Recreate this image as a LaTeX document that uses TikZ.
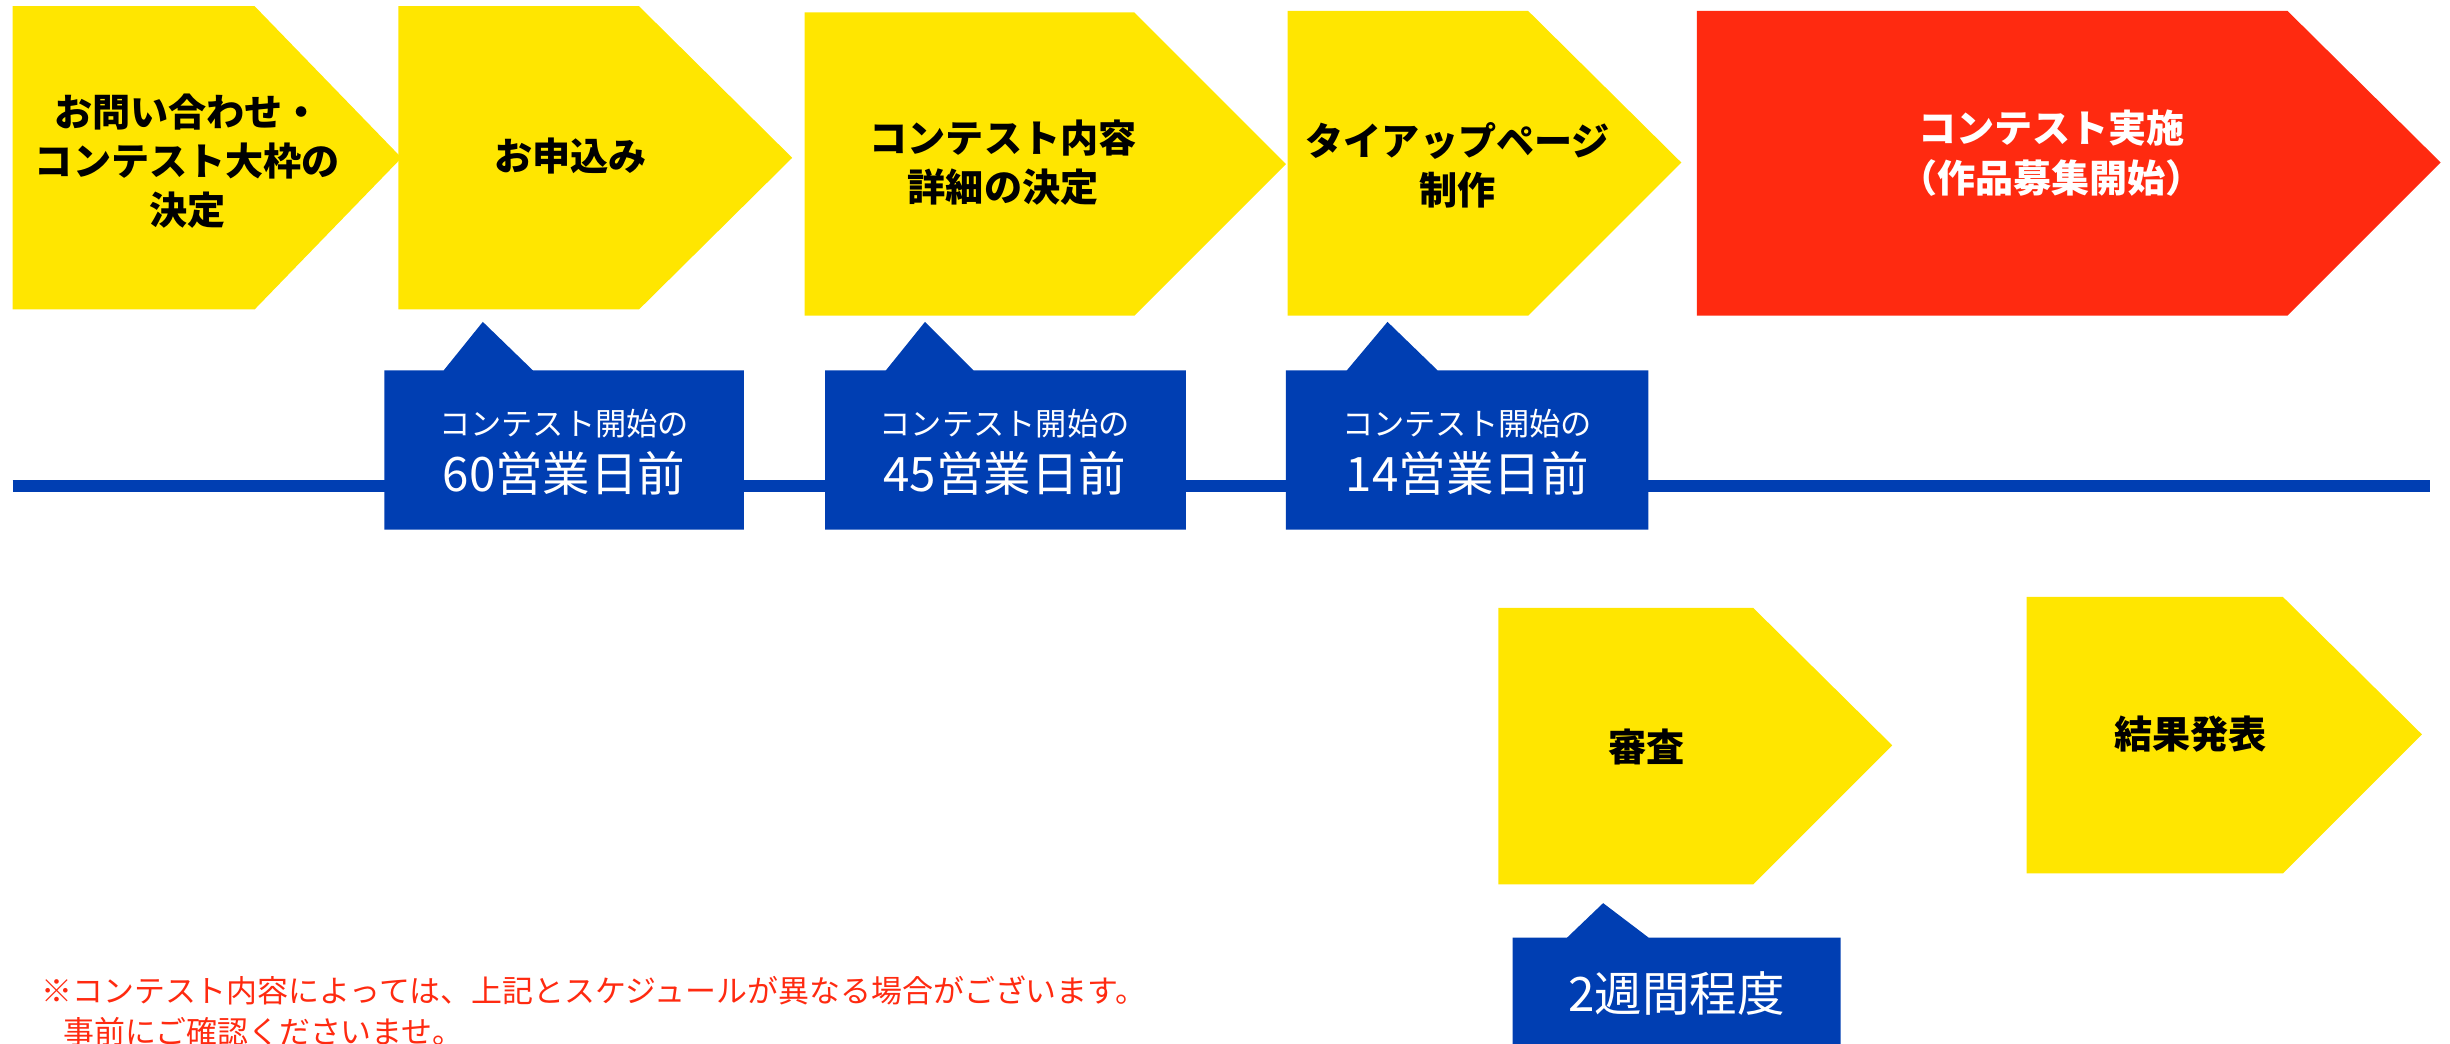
\documentclass[tikz,border=0pt]{standalone}
\usepackage{fontspec}
\newfontfamily\jp{Noto Sans CJK JP}
\definecolor{cyel}{RGB}{255,230,0}
\definecolor{cred}{RGB}{255,42,16}
\definecolor{cblue}{RGB}{0,62,178}
\tikzset{
  steplabel/.style={font=\jp\bfseries\fontsize{12.2pt}{15.75pt}\selectfont, align=center, text=black, inner sep=0pt},
  redlabel/.style={steplabel, text=white},
  small/.style={font=\jp\fontsize{10pt}{12pt}\selectfont, text=white, inner sep=0pt},
  big/.style={font=\jp\fontsize{15.2pt}{17pt}\selectfont, text=white, inner sep=0pt},
  notetext/.style={font=\jp\fontsize{9.9pt}{12pt}\selectfont, text=cred, inner sep=0pt, anchor=west},
}
\begin{document}
\begin{tikzpicture}[x=0.5pt,y=-0.5pt]
\useasboundingbox (0,0) rectangle (1568,668);
% timeline
\coordinate (lineL) at (8,311);
\coordinate (lineR) at (1555,311);
\draw[cblue, line width=4pt] (lineL) -- (lineR);
% chevrons
\fill[cyel] (8,4) -- (163,4) -- (257,101) -- (163,198) -- (8,198) -- cycle;
\fill[cyel] (255,4) -- (409,4) -- (507,101) -- (409,198) -- (255,198) -- cycle;
\fill[cyel] (515,8) -- (726,8) -- (823,105) -- (726,202) -- (515,202) -- cycle;
\fill[cyel] (824,7) -- (978,7) -- (1076,104) -- (978,202) -- (824,202) -- cycle;
\fill[cred] (1086,7) -- (1464,7) -- (1562,104) -- (1464,202) -- (1086,202) -- cycle;
\fill[cyel] (959,389) -- (1122,389) -- (1211,477) -- (1122,566) -- (959,566) -- cycle;
\fill[cyel] (1297,382) -- (1461,382) -- (1550,470) -- (1461,559) -- (1297,559) -- cycle;
% callouts
\fill[cblue] (246,237) -- (284,237) -- (309,206) -- (341,237) -- (476,237) -- (476,339) -- (246,339) -- cycle;
\fill[cblue] (528,237) -- (567,237) -- (592,206) -- (623,237) -- (759,237) -- (759,339) -- (528,339) -- cycle;
\fill[cblue] (823,237) -- (862,237) -- (888,206) -- (920,237) -- (1055,237) -- (1055,339) -- (823,339) -- cycle;
\fill[cblue] (968,600) -- (1003,600) -- (1026,578) -- (1055,600) -- (1178,600) -- (1178,672) -- (968,672) -- cycle;
% step labels
\node[steplabel] (s1) at (120,103) {お問い合わせ・\\コンテスト大枠の\\決定};
\node[steplabel] (s2) at (365,100) {お申込み};
\node[steplabel] (s3) at (642,104) {コンテスト内容\\詳細の決定};
\node[steplabel] (s4) at (933,106) {タイアップページ\\制作};
\node[redlabel] (s5) at (1313,98) {コンテスト実施\\（作品募集開始）};
\node[steplabel] (s6) at (1054,478) {審査};
\node[steplabel] (s7) at (1402,470) {結果発表};
% callout labels
\node[small] (c1a) at (361,271) {コンテスト開始の};
\node[big] (c1b) at (361,303) {60営業日前};
\node[small] (c2a) at (643,271) {コンテスト開始の};
\node[big] (c2b) at (643,303) {45営業日前};
\node[small] (c3a) at (939,271) {コンテスト開始の};
\node[big] (c3b) at (939,303) {14営業日前};
\node[big] (c4) at (1073,636) {2週間程度};
% note
\node[notetext] (n1) at (26,634) {※コンテスト内容によっては、上記とスケジュールが異なる場合がございます。};
\node[notetext] (n2) at (40,660) {事前にご確認くださいませ。};
\end{tikzpicture}
\end{document}
